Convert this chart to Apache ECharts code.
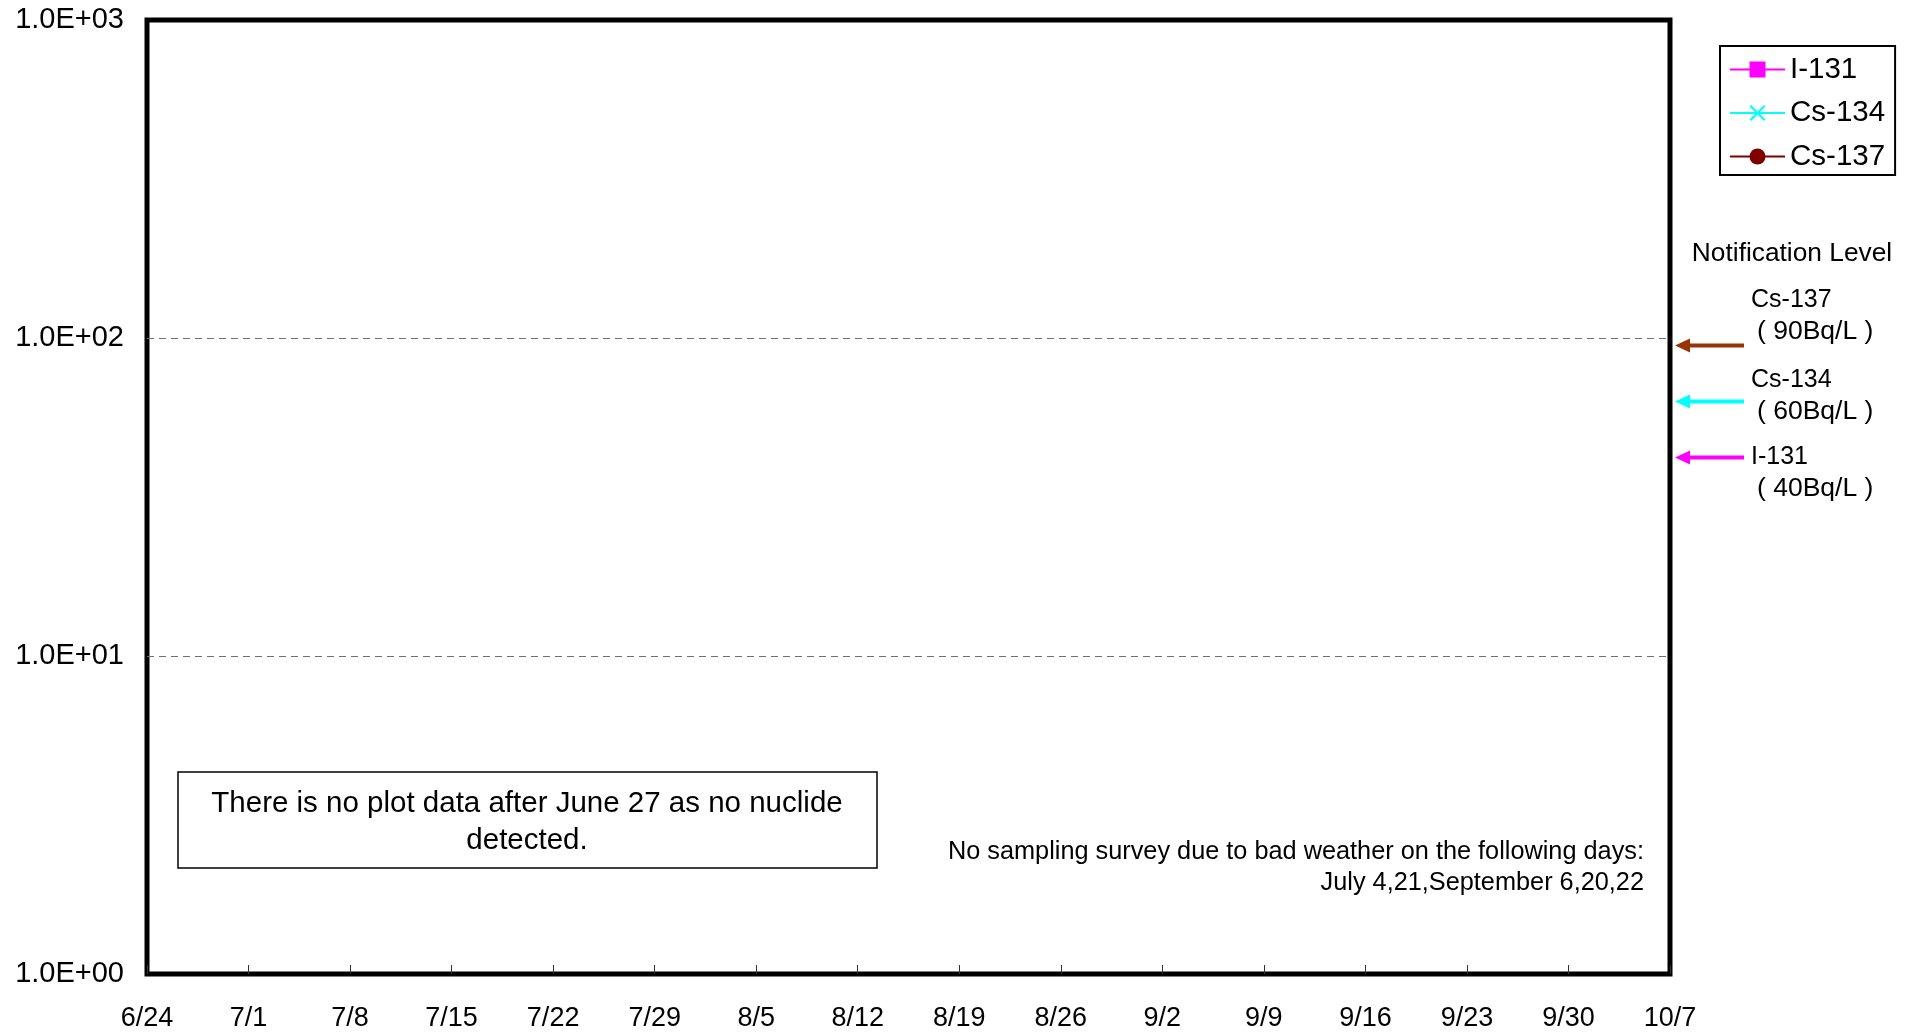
<!DOCTYPE html>
<html><head><meta charset="utf-8">
<script src="https://cdn.jsdelivr.net/npm/echarts@6/dist/echarts.min.js"></script>
<style>html,body{margin:0;padding:0;background:#fff}#c{width:1917px;height:1035px}</style>
</head><body><div id="c"></div>
<script>
// ---- data ----
const xTickLabels = ['6/24','7/1','7/8','7/15','7/22','7/29','8/5','8/12','8/19','8/26','9/2','9/9','9/16','9/23','9/30','10/7'];
const daysPerTick = 7;
const yTickValues = [1, 10, 100, 1000];
const yTickLabels = ['1.0E+00','1.0E+01','1.0E+02','1.0E+03'];
const seriesNames = ['I-131','Cs-134','Cs-137'];
const seriesColors = ['#FF00FF','#00FFFF','#800000'];
// no nuclide detected -> no plotted points
const i131Values = [];
const cs134Values = [];
const cs137Values = [];
const levelNames = ['Cs-137','Cs-134','I-131'];
const levelValues = [90, 60, 40];
const levelTexts = ['( 90Bq/L )','( 60Bq/L )','( 40Bq/L )'];
const levelColors = ['#993300','#00FFFF','#FF00FF'];
const boxNote = 'There is no plot data after June 27 as no nuclide\ndetected.';
const weatherNote = 'No sampling survey due to bad weather on the following days:\nJuly 4,21,September 6,20,22';

// ---- layout ----
const FONT = 'Liberation Sans, Arial, sans-serif';
const levelNameY = [300.5, 380.5, 457];
const levelTextY = [332, 411.5, 488.5];
const arrowOffsetY = -7;

const chart = echarts.init(document.getElementById('c'), null, {renderer: 'canvas'});
const xSymbol = 'path://M0,1 L1,0 L5,4 L9,0 L10,1 L6,5 L10,9 L9,10 L5,6 L1,10 L0,9 L4,5 Z';
const symbols = ['rect', xSymbol, 'circle'];
const seriesData = [i131Values, cs134Values, cs137Values];

const option = {
  animation: false,
  backgroundColor: '#fff',
  textStyle: {fontFamily: FONT},
  grid: {left: 147, right: 247, top: 20, bottom: 61, show: true, borderColor: '#000', borderWidth: 5, backgroundColor: '#fff'},
  legend: {
    orient: 'vertical', left: 1720, top: 46,
    data: seriesNames,
    itemWidth: 55, itemHeight: 20, itemGap: 11.5,
    padding: [7.5, 10, 2.5, 9],
    borderColor: '#000', borderWidth: 2,
    textStyle: {fontSize: 29.5, color: '#000', fontFamily: FONT, lineHeight: 32}
  },
  xAxis: {
    type: 'value', min: 0, max: (xTickLabels.length - 1) * daysPerTick, interval: daysPerTick,
    axisLine: {show: false},
    axisTick: {show: true, inside: true, length: 9, lineStyle: {color: '#333', width: 1}},
    splitLine: {show: false},
    axisLabel: {fontSize: 27, color: '#000', margin: 31, fontFamily: FONT,
      formatter: v => xTickLabels[Math.round(v / daysPerTick)]}
  },
  yAxis: {
    type: 'log', logBase: 10, min: yTickValues[0], max: yTickValues[yTickValues.length - 1],
    axisLine: {show: false}, axisTick: {show: false},
    splitLine: {show: true, showMinLine: false, showMaxLine: false, lineStyle: {color: '#707070', width: 1.2, type: [7, 5]}},
    axisLabel: {fontSize: 29, color: '#000', margin: 23, fontFamily: FONT,
      formatter: v => yTickLabels[yTickValues.indexOf(Math.round(v))] || ''}
  },
  series: seriesNames.map((n, i) => ({
    name: n, type: 'line', data: seriesData[i],
    symbol: symbols[i], symbolSize: 14,
    lineStyle: {color: seriesColors[i], width: 2.5},
    itemStyle: {color: seriesColors[i]}
  }))
};
chart.setOption(option);

// notification level arrows positioned through the y scale
const tipX = chart.convertToPixel({xAxisIndex: 0}, (xTickLabels.length - 1) * daysPerTick) + 5;
const tailX = tipX + 69;
const graphics = [];
levelValues.forEach((v, i) => {
  const y = chart.convertToPixel({yAxisIndex: 0}, v) + arrowOffsetY;
  graphics.push({type: 'line', shape: {x1: tipX + 12, y1: y, x2: tailX, y2: y},
    style: {stroke: levelColors[i], lineWidth: 4}, silent: true});
  graphics.push({type: 'polygon', shape: {points: [[tipX, y], [tipX + 15, y - 7], [tipX + 15, y + 7]]},
    style: {fill: levelColors[i]}, silent: true});
  graphics.push({type: 'text', x: 1751, y: levelNameY[i],
    style: {text: levelNames[i], font: '25px ' + FONT, fill: '#000', textVerticalAlign: 'middle'}});
  graphics.push({type: 'text', x: 1757, y: levelTextY[i],
    style: {text: levelTexts[i], font: '26.5px ' + FONT, fill: '#000', textVerticalAlign: 'middle'}});
});
graphics.push({type: 'text', x: 1792, y: 253.5,
  style: {text: 'Notification Level', font: '26.3px ' + FONT, fill: '#000', textAlign: 'center', textVerticalAlign: 'middle'}});
graphics.push({type: 'rect', shape: {x: 178, y: 772, width: 699, height: 96},
  style: {fill: '#fff', stroke: '#000', lineWidth: 1.5}});
graphics.push({type: 'text', x: 527, y: 822,
  style: {text: boxNote, font: '29.5px ' + FONT, fill: '#000', textAlign: 'center', textVerticalAlign: 'middle', lineHeight: 37}});
graphics.push({type: 'text', x: 1644, y: 867.5,
  style: {text: weatherNote, font: '25.3px ' + FONT, fill: '#000', textAlign: 'right', textVerticalAlign: 'middle', lineHeight: 31}});
chart.setOption({graphic: graphics});
</script>
</body></html>
